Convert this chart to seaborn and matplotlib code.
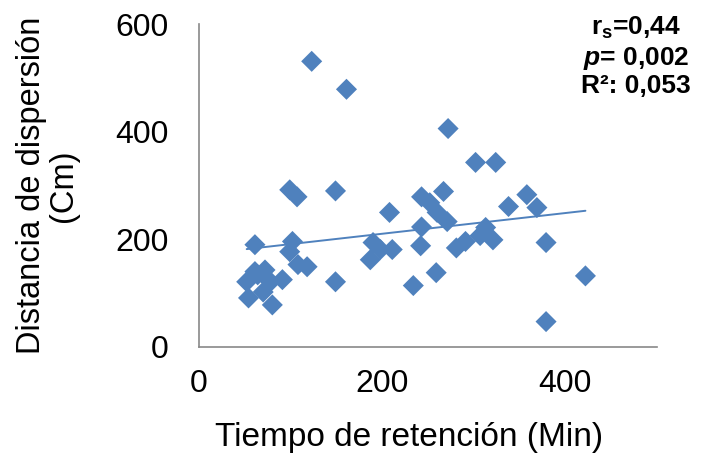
import matplotlib
matplotlib.use("Agg")
import matplotlib.pyplot as plt
import seaborn as sns
import numpy as np
import pandas as pd

# Data
tiempo = [123, 161, 272, 149, 99, 107, 302, 324, 338, 358, 369, 267, 243, 252,
          260, 271, 208, 243, 242, 281, 291, 307, 313, 321, 259, 234, 379, 422,
          379, 190, 198, 211, 187, 61, 102, 99, 108, 118, 61, 72, 52, 78, 91,
          54, 70, 80, 149, 64]
distancia = [531, 479, 406, 290, 292, 279, 343, 343, 261, 283, 259, 289, 279,
             268, 250, 233, 250, 223, 188, 184, 196, 207, 222, 199, 138, 114,
             194, 132, 47, 194, 181, 181, 162, 190, 196, 177, 153, 149, 140,
             143, 121, 121, 125, 91, 102, 78, 121, 134]
x_ticks = [0, 200, 400]
y_ticks = [0, 200, 400, 600]
stats_lines = [r"r$_{\rm s}$=0,44", r"$\it{p}$= 0,002", "R²: 0,053"]

df = pd.DataFrame({"Tiempo": tiempo, "Distancia": distancia})

sns.set_style("white")
plt.rcParams["font.family"] = ["Liberation Sans", "DejaVu Sans"]
plt.rcParams["mathtext.fontset"] = "custom"
plt.rcParams["mathtext.rm"] = "Liberation Sans:bold"
plt.rcParams["mathtext.it"] = "Liberation Sans:bold:italic"
plt.rcParams["mathtext.bf"] = "Liberation Sans:bold"

blue = "#4F81BD"
fig = plt.figure(figsize=(7.01, 4.57), dpi=100)
ax = fig.add_axes([0.284, 0.241, 0.653, 0.706])

sns.regplot(data=df, x="Tiempo", y="Distancia", ax=ax, ci=None,
            marker="D",
            scatter_kws={"s": 115, "color": blue, "edgecolor": "none", "alpha": 1},
            line_kws={"color": blue, "linewidth": 1.4})

ax.set_xlim(0, 500)
ax.set_ylim(0, 600)
ax.set_xticks(x_ticks)
ax.set_yticks(y_ticks)
ax.tick_params(axis="x", labelsize=23, length=0, pad=16, colors="black")
ax.tick_params(axis="y", labelsize=23, length=0, pad=22, colors="black")
for s in ["top", "right"]:
    ax.spines[s].set_visible(False)
for s in ["left", "bottom"]:
    ax.spines[s].set_color("#898989")
    ax.spines[s].set_linewidth(1.2)

ax.set_xlabel("Tiempo de retención (Min)", fontsize=24, color="black")
ax.xaxis.set_label_coords(0.459, -0.232)
ax.set_ylabel("Distancia de dispersión\n(Cm)", fontsize=23.5, labelpad=26,
              linespacing=1.05, color="black")

ys = [0.923, 0.857, 0.796]
for t, yy in zip(stats_lines, ys):
    fig.text(0.907, yy, t, ha="center", va="baseline", fontsize=19,
             fontweight="bold", color="black")

fig.savefig("out.png", dpi=100)
